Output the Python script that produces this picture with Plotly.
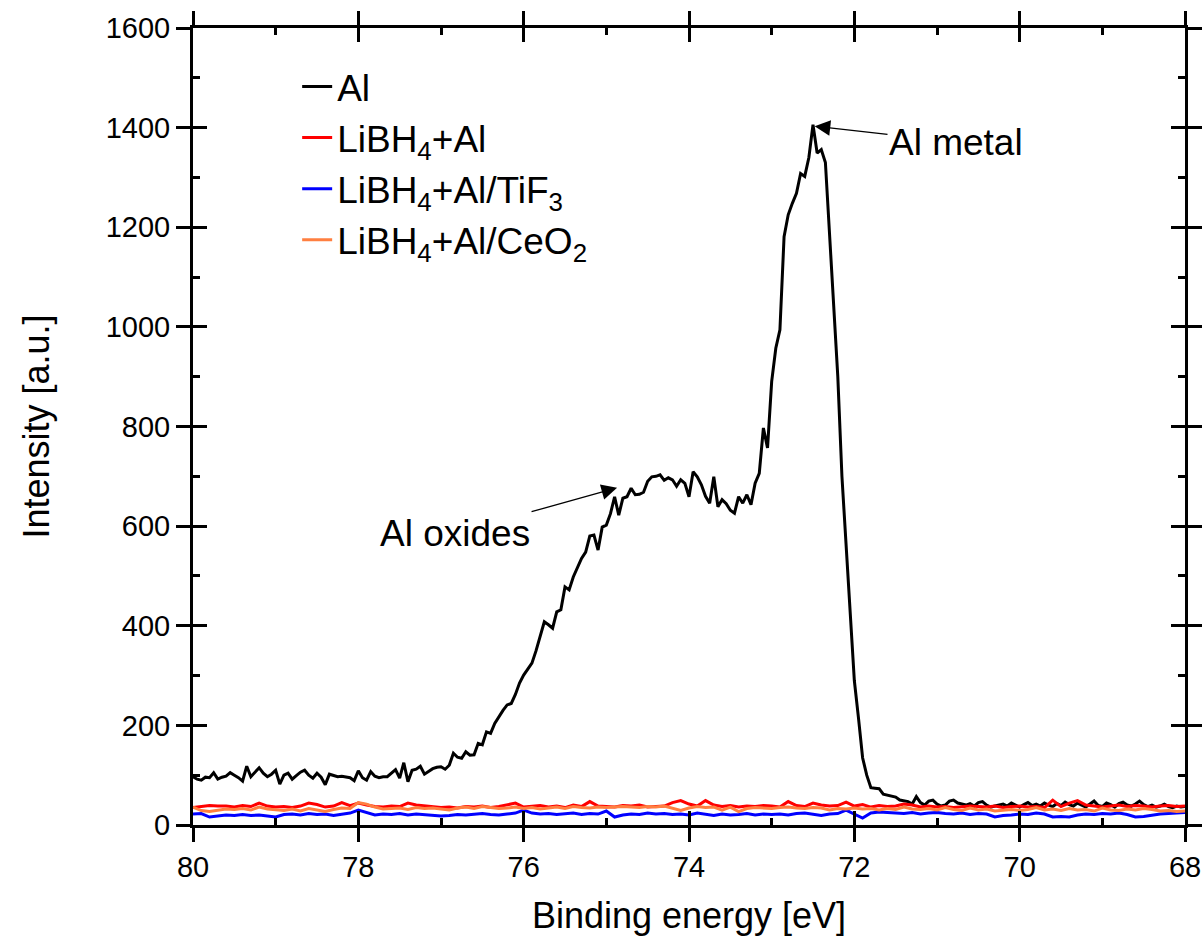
import plotly.graph_objects as go

# ---------------- data ----------------
# Al 2p spectra, binding energy grid (eV)
al_step = 0.05
al_intensity = [
    97, 92, 90, 96, 95, 105, 92, 96, 98, 105,          # 80.00-79.55
    100, 95, 88, 118, 97, 105, 115, 104, 97, 102,      # 79.50-79.05
    110, 82, 100, 104, 92, 99, 106, 110, 100, 94,      # 79.00-78.55
    104, 96, 81, 102, 99, 97, 98, 97, 95, 89,          # 78.50-78.05
    109, 95, 90, 107, 98, 95, 97, 97, 104, 111,        # 78.00-77.55
    94, 125, 87, 110, 112, 118, 102, 108, 113, 116,    # 77.50-77.05
    117, 112, 120, 144, 136, 134, 147, 140, 141, 164,  # 77.00-76.55
    161, 187, 184, 204, 218, 230, 241, 244, 262, 285,  # 76.50-76.05
    301, 312, 325, 350, 380, 408, 402, 395, 428, 432,  # 76.00-75.55
    478, 472, 498, 515, 535, 548, 580, 582, 552, 598,  # 75.50-75.05
    602, 625, 659, 622, 656, 659, 676, 663, 664, 668,  # 75.00-74.55
    690, 699, 700, 703, 692, 697, 693, 680, 693, 686,  # 74.50-74.05
    659, 709, 699, 683, 660, 646, 699, 639, 653, 645,  # 74.00-73.55
    632, 626, 659, 646, 663, 643, 686, 706, 797, 757,  # 73.50-73.05
    890, 957, 994, 1181, 1225, 1248, 1268, 1308, 1302, 1340,  # 73.00-72.55
    1406, 1349, 1356, 1330, 1190, 1050, 900, 700, 560, 432,   # 72.50-72.05
    290, 215, 135, 100, 75, 74, 73, 62, 60, 58,        # 72.00-71.55
    56, 50, 48, 47, 42, 57, 45, 40, 48, 50,            # 71.50-71.05
    42, 38, 40, 48, 50, 44, 42, 40, 43, 38,            # 71.00-70.55
    45, 47, 40, 36, 38, 40, 42, 38, 44, 40,            # 70.50-70.05
    36, 41, 45, 39, 42, 38, 44, 40, 37, 43,            # 70.00-69.55
    39, 46, 41, 38, 44, 40, 36, 42, 48, 39,            # 69.50-69.05
    37, 44, 41, 36, 43, 46, 40, 38, 42, 48,            # 69.00-68.55
    41, 37, 40, 36, 38, 42, 37, 35, 38, 36,            # 68.50-68.05
    37,                                                # 68.00
]

low_step = 0.1
libh4_al = [
    35, 37, 39, 38, 38, 36, 39, 37, 44, 38,
    36, 37, 35, 38, 44, 41, 36, 38, 45, 39,
    44, 40, 37, 36, 38, 37, 44, 40, 38, 37,
    35, 36, 34, 37, 36, 38, 35, 37, 40, 44,
    36, 37, 39, 36, 38, 35, 40, 37, 47, 38,
    37, 36, 39, 38, 40, 36, 37, 38, 45, 49,
    42, 38, 49, 40, 37, 39, 36, 38, 37, 39,
    38, 36, 47, 39, 37, 44, 40, 38, 39, 46,
    38, 41, 36, 39, 37, 38, 42, 40, 36, 38,
    36, 37, 35, 36, 38, 37, 36, 38, 35, 37,
    38, 36, 37, 35, 50, 37, 44, 49, 40, 38,
    36, 38, 40, 37, 39, 38, 36, 38, 39, 37,
    38,
]
libh4_al_tif3 = [
    22, 23, 16, 18, 20, 19, 21, 19, 20, 18,
    16, 21, 22, 20, 23, 21, 22, 19, 21, 24,
    30, 25, 20, 22, 21, 23, 20, 22, 21, 20,
    18, 19, 21, 20, 22, 23, 21, 20, 22, 24,
    30, 24, 22, 23, 21, 22, 24, 21, 23, 22,
    28, 16, 20, 22, 21, 24, 22, 23, 21, 22,
    20, 24, 21, 19, 22, 20, 21, 23, 20, 22,
    21, 22, 20, 23, 24, 21, 19, 22, 23, 30,
    22, 14, 24, 26, 25, 24, 23, 25, 22, 24,
    25, 23, 22, 24, 21, 23, 22, 16, 19, 20,
    22, 21, 24, 22, 16, 17, 16, 20, 22, 21,
    23, 22, 24, 21, 16, 17, 20, 22, 23, 24,
    25,
]
libh4_al_ceo2 = [
    36, 29, 27, 30, 32, 31, 33, 30, 36, 32,
    31, 29, 32, 28, 33, 30, 27, 31, 34, 33,
    45, 42, 36, 32, 33, 34, 31, 35, 33, 34,
    32, 30, 34, 36, 33, 37, 35, 33, 34, 36,
    33, 35, 32, 34, 36, 33, 37, 35, 34, 36,
    35, 36, 37, 36, 35, 37, 36, 38, 34, 29,
    34, 37, 35, 36, 30, 36, 27, 33, 35, 34,
    33, 35, 36, 34, 33, 35, 34, 30, 33, 32,
    34, 32, 33, 30, 33, 31, 36, 32, 31, 33,
    30, 35, 31, 29, 34, 30, 32, 28, 30, 31,
    29, 31, 35, 30, 32, 29, 33, 30, 31, 28,
    34, 30, 29, 32, 30, 33, 31, 28, 29, 27,
    28,
]

al_energy = [round(80 - al_step * i, 2) for i in range(len(al_intensity))]
low_energy = [round(80 - low_step * i, 2) for i in range(len(libh4_al))]

series_names = ["Al", "LiBH<sub>4</sub>+Al", "LiBH<sub>4</sub>+Al/TiF<sub>3</sub>",
                "LiBH<sub>4</sub>+Al/CeO<sub>2</sub>"]
series_colors = ["#000000", "#FF0000", "#0000FF", "#FF7F40"]

x_range = [80, 68]
y_range = [0, 1600]

# annotations: (label, arrow head x, y, text x, y)
peak_labels = [
    ("Al metal", 72.48, 1403, 70.77, 1371),
    ("Al oxides", 74.87, 677, 76.83, 586),
]

# ---------------- figure ----------------
FONT = "Liberation Sans, Arial, sans-serif"
fig = go.Figure()
data = [
    (al_energy, al_intensity),
    (low_energy, libh4_al),
    (low_energy, libh4_al_tif3),
    (low_energy, libh4_al_ceo2),
]
for (xs, ys), name, col in zip(data, series_names, series_colors):
    fig.add_trace(go.Scatter(x=xs, y=ys, mode="lines", name=name,
                             line=dict(color=col, width=3)))

# helper invisible trace for overlay axes (inside ticks)
fig.add_trace(go.Scatter(x=[None], y=[None], xaxis="x2", yaxis="y2",
                         showlegend=False, hoverinfo="skip"))

common = dict(showline=True, linecolor="black", linewidth=3, mirror="ticks",
              showgrid=False, zeroline=False, tickcolor="black", tickwidth=3,
              automargin=False)

fig.update_layout(
    width=1202, height=946,
    margin=dict(l=193, r=17, t=28, b=121, autoexpand=False),
    paper_bgcolor="white", plot_bgcolor="white",
    font=dict(family=FONT, color="black"),
    xaxis=dict(range=x_range, dtick=2, tick0=68, ticks="outside", ticklen=14,
               tickfont=dict(size=29), title=dict(text="Binding energy [eV]",
               font=dict(size=36), standoff=22), **common),
    yaxis=dict(range=y_range, dtick=200, ticks="outside", ticklen=14,
               tickfont=dict(size=29), title=dict(text="Intensity [a.u.]",
               font=dict(size=36), standoff=46), **common),
    xaxis2=dict(overlaying="x", range=x_range, dtick=2, tick0=68, ticks="inside",
                ticklen=14, showticklabels=False,
                minor=dict(dtick=1, ticks="inside", ticklen=7, tickwidth=3,
                           tickcolor="black"), **common),
    yaxis2=dict(overlaying="y", range=y_range, dtick=200, ticks="inside",
                ticklen=14, showticklabels=False,
                minor=dict(dtick=100, ticks="inside", ticklen=7, tickwidth=3,
                           tickcolor="black"), **common),
    legend=dict(x=0.105, y=0.965, xanchor="left", yanchor="top",
                bgcolor="rgba(0,0,0,0)", font=dict(size=37), tracegroupgap=4),
    showlegend=True,
)

for label, hx, hy, tx, ty in peak_labels:
    fig.add_annotation(x=hx, y=hy, ax=tx, ay=ty, axref="x", ayref="y",
                       text=label, showarrow=True, arrowhead=2, arrowsize=2.4,
                       arrowwidth=1.3, arrowcolor="black",
                       font=dict(size=37, color="black"))

fig.write_html("out.html")
